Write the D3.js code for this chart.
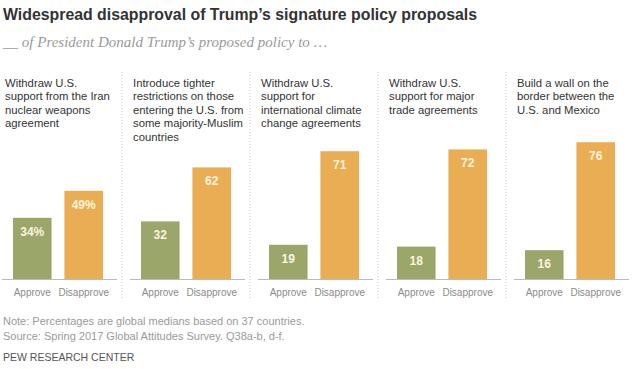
<!DOCTYPE html>
<html><head><meta charset="utf-8">
<script src="https://cdn.jsdelivr.net/npm/d3@7"></script>
<style>body{margin:0;background:#fff}svg{display:block}</style>
</head><body>
<svg id="c" width="636" height="369"></svg>
<script>
const title = "Widespread disapproval of Trump\u2019s signature policy proposals";
const subtitle = "__ of President Donald Trump\u2019s proposed policy to \u2026";
const categories = [
  ["Withdraw U.S.", "support from the Iran", "nuclear weapons", "agreement"],
  ["Introduce tighter", "restrictions on those", "entering the U.S. from", "some majority-Muslim", "countries"],
  ["Withdraw U.S.", "support for", "international climate", "change agreements"],
  ["Withdraw U.S.", "support for major", "trade agreements"],
  ["Build a wall on the", "border between the", "U.S. and Mexico"]
];
const seriesNames = ["Approve", "Disapprove"];
const approve = [34, 32, 19, 18, 16];
const disapprove = [49, 62, 71, 72, 76];
const valueLabels = [["34%", "49%"], ["32", "62"], ["19", "71"], ["18", "72"], ["16", "76"]];
const notes = [
  "Note: Percentages are global medians based on 37 countries.",
  "Source: Spring 2017 Global Attitudes Survey. Q38a-b, d-f."
];
const credit = "PEW RESEARCH CENTER";

const svg = d3.select("#c");
const colors = d3.scaleOrdinal().domain(seriesNames).range(["#9ba66b", "#e9ae53"]);
const panel = d3.scaleBand().domain(d3.range(5)).range([2, 642]).paddingInner(0);
const inner = d3.scaleBand().domain(seriesNames).range([11, 101]).paddingInner(0.25);
const y = d3.scaleLinear().domain([0, 100]).range([279, 99]);
const sans = "'Liberation Sans',Arial,sans-serif";

svg.append("text").attr("x", 3).attr("y", 20)
  .style("font-family", sans)
  .style("font-weight", "bold").style("font-size", "16.5px").attr("fill", "#333")
  .attr("textLength", 474).attr("lengthAdjust", "spacingAndGlyphs").text(title);
svg.append("text").attr("x", 3).attr("y", 47)
  .style("font-family", "'Liberation Serif','DejaVu Serif',serif").style("font-style", "italic")
  .style("font-size", "15px").attr("fill", "#9a9a9a")
  .attr("textLength", 324).attr("lengthAdjust", "spacingAndGlyphs").text(subtitle);

const data = d3.range(5).map(i => ({i, vals: [approve[i], disapprove[i]], labels: valueLabels[i], cat: categories[i]}));

const g = svg.selectAll("g.panel").data(data).join("g").attr("class", "panel")
  .attr("transform", d => `translate(${panel(d.i)},0)`);

// separators
g.filter(d => d.i < 4).append("line")
  .attr("x1", 120).attr("x2", 120).attr("y1", 72).attr("y2", 300)
  .attr("stroke", "#ccc").attr("stroke-dasharray", "1,2");

// category text
g.append("text").attr("y", 87)
  .style("font-family", sans).style("font-size", "11.3px").attr("fill", "#333")
  .selectAll("tspan").data(d => d.cat).join("tspan")
  .attr("x", 3).attr("dy", (d, k) => k === 0 ? 0 : 13.4).text(d => d);

// bars
const items = d => d.vals.map((v, k) => ({v, k, s: seriesNames[k], lab: d.labels[k]}));
g.selectAll("rect").data(items).join("rect")
  .attr("x", d => inner(d.s)).attr("width", inner.bandwidth())
  .attr("y", d => y(d.v)).attr("height", d => y(0) - y(d.v))
  .attr("fill", d => colors(d.s));

g.selectAll("text.val").data(items).join("text").attr("class", "val")
  .attr("x", d => inner(d.s) + inner.bandwidth() / 2).attr("y", d => y(d.v) + 18)
  .attr("text-anchor", "middle")
  .style("font-family", sans).style("font-weight", "bold").style("font-size", "12px")
  .attr("fill", "#fdf4de").text(d => d.lab);

// baseline axis
g.each(function() {
  const ax = d3.select(this).append("g").attr("transform", `translate(0,${y(0)})`)
    .call(d3.axisBottom(inner).tickSize(0).tickPadding(10));
  ax.select(".domain").attr("d", "M0,0.5H115").attr("stroke", "#bbb");
  ax.selectAll("text").style("font-family", sans)
    .style("font-size", "10px").attr("fill", "#8a8a8a");
});

svg.selectAll("text.note").data(notes).join("text").attr("class", "note")
  .attr("x", 3).attr("y", (d, i) => 325 + i * 14.5)
  .style("font-family", sans).style("font-size", "11px")
  .attr("fill", "#9a9a9a").text(d => d);
svg.append("text").attr("x", 3).attr("y", 361)
  .style("font-family", sans).style("font-size", "10.5px")
  .attr("fill", "#555").text(credit);
</script>
</body></html>
